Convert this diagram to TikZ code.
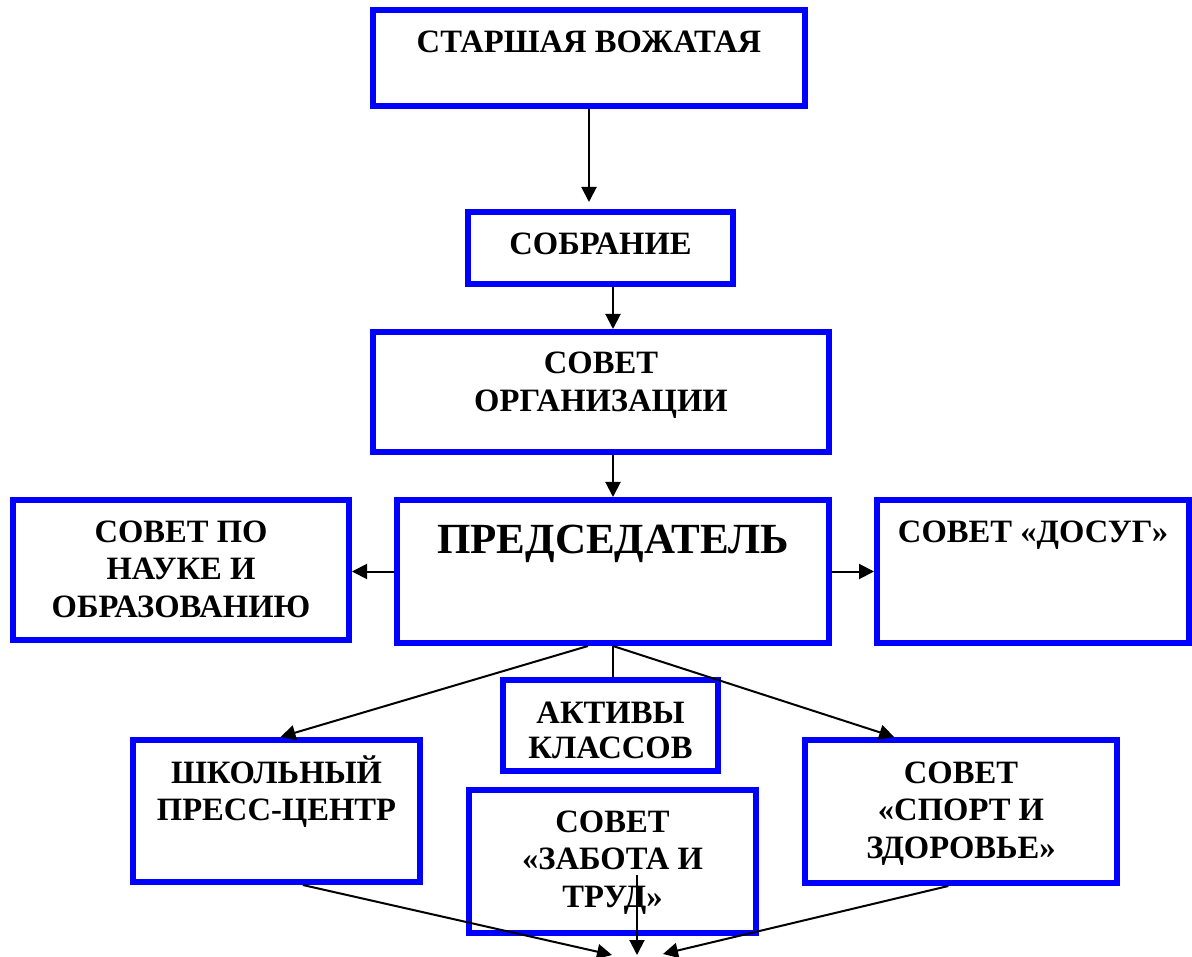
\documentclass[tikz,border=0pt]{standalone}
\usepackage{fontspec}
\setmainfont{Liberation Serif}
\usetikzlibrary{arrows.meta,calc}
\definecolor{boxblue}{RGB}{0,0,255}
\tikzset{
  box/.style={draw=boxblue, line width=6pt, fill=white, rectangle, inner sep=0pt},
  txt/.style={font=\fontsize{32.6}{37.5}\selectfont\bfseries, align=center, anchor=base, inner sep=0pt},
  bigtxt/.style={font=\fontsize{43}{48}\selectfont\bfseries, align=center, anchor=base, inner sep=0pt},
  arr/.style={line width=2pt, -{Triangle[length=15pt,width=15pt]}},
  ln/.style={line width=2pt}
}
\begin{document}
\begin{tikzpicture}[x=1pt,y=-1pt]
\useasboundingbox (0,0) rectangle (1192,957);
% boxes
\node[box, minimum width=432, minimum height=96] (top) at (589,58) {};
\node[box, minimum width=265, minimum height=72] (sobr) at (600.5,248) {};
\node[box, minimum width=456, minimum height=120] (org) at (601,392) {};
\node[box, minimum width=432, minimum height=143] (pred) at (613,571.5) {};
\node[box, minimum width=336, minimum height=140] (nauka) at (181,570) {};
\node[box, minimum width=312, minimum height=143] (dosug) at (1033,571.5) {};
\node[box, minimum width=215, minimum height=91] (aktiv) at (610.5,725.5) {};
\node[box, minimum width=287, minimum height=143] (zabota) at (612.5,861.5) {};
\node[box, minimum width=287, minimum height=142] (shkol) at (276.5,811) {};
\node[box, minimum width=312, minimum height=143] (sport) at (961,811.5) {};
% texts (anchor base = baseline of the last line)
\node[txt] (ttop) at (589,53) {СТАРШАЯ ВОЖАТАЯ};
\node[txt] (tsobr) at (600.5,255) {СОБРАНИЕ};
\node[txt] (torg) at (601,411.5) {СОВЕТ\\ОРГАНИЗАЦИИ};
\node[bigtxt] (tpred) at (613,553) {ПРЕДСЕДАТЕЛЬ};
\node[txt] (tnauka) at (181,617) {СОВЕТ ПО\\НАУКЕ И\\ОБРАЗОВАНИЮ};
\node[txt] (tdosug) at (1033,542) {СОВЕТ «ДОСУГ»};
\node[txt, font=\fontsize{32.6}{35}\selectfont\bfseries] (taktiv) at (610.5,758) {АКТИВЫ\\КЛАССОВ};
\node[txt] (tzabota) at (612.5,907) {СОВЕТ\\«ЗАБОТА И\\ТРУД»};
\node[txt] (tshkol) at (276.5,820.5) {ШКОЛЬНЫЙ\\ПРЕСС-ЦЕНТР};
\node[txt] (tsport) at (961,858) {СОВЕТ\\«СПОРТ И\\ЗДОРОВЬЕ»};
% bottom points
\coordinate (b1) at (612,955);
\coordinate (b2) at (637,955);
\coordinate (b3) at (663,954);
\coordinate (zs) at (637,875);
% connectors
\draw[arr, shorten >=7pt] (top.south) -- (top.south |- sobr.north);
\draw[arr] (sobr.south -| pred.north) -- (org.north -| pred.north);
\draw[arr] (org.south -| pred.north) -- (pred.north);
\draw[arr] (pred.west) -- (pred.west -| nauka.east);
\draw[arr] (pred.east) -- (pred.east -| dosug.west);
\draw[ln] (pred.south) -- (pred.south |- aktiv.north);
\draw[arr] ($(pred.south)+(-25,0)$) -- ($(shkol.north)+(4,0)$);
\draw[arr] (pred.south) -- ($(sport.north west)!0.29!(sport.north east)$);
\draw[arr] ($(shkol.south west)!0.59!(shkol.south east)$) -- (b1);
\draw[arr] ($(sport.south west)!0.46!(sport.south east)$) -- (b3);
\draw[arr] (zs) -- (b2);
\end{tikzpicture}
\end{document}
